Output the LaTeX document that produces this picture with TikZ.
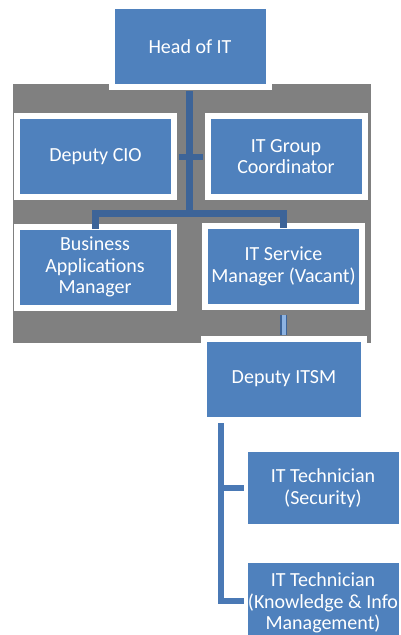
\documentclass[tikz,border=0pt]{standalone}
\usepackage{fontspec}
\setmainfont{Carlito}
\definecolor{boxblue}{RGB}{79,129,189}
\definecolor{connblue}{RGB}{61,100,152}
\definecolor{linkblue}{RGB}{74,121,181}
\definecolor{paleblue}{RGB}{141,179,226}
\definecolor{panelgray}{RGB}{128,128,128}
\tikzset{
  unit/.style={fill=boxblue, draw=white, line width=6pt, text=white, align=center,
    minimum width=157pt, minimum height=81pt, inner sep=0pt,
    font=\fontsize{20}{21.5}\selectfont},
  conn/.style={draw=connblue, line width=7pt, line cap=rect},
  sublink/.style={draw=linkblue, line width=6pt, line cap=rect}
}
\begin{document}
\begin{tikzpicture}[x=1pt, y=-1pt, line join=miter]
    \useasboundingbox (0,0) rectangle (401,635);
    \fill[panelgray] (13,84) rectangle (371,343); % grey panel
    \node[unit] (head) at (190,46.5) {Head of IT};
    \node[unit] (cio) at (95.5,156.5) {Deputy CIO};
    \node[unit] (coord) at (286,156.5) {IT Group\\Coordinator};
    \node[unit] (bam) at (95,267) {Business\\Applications\\Manager};
    \node[unit] (itsm) at (283.5,266.5) {IT Service\\Manager (Vacant)};
    \node[unit, minimum width=160pt] (ditsm) at (284,379) {Deputy ITSM};
    \node[unit, minimum height=78pt] (sec) at (323,488) {IT Technician\\(Security)};
    \node[unit, minimum height=86pt] (kim) at (323,603) {IT Technician\\(Knowledge \& Info\\Management)};
    \coordinate (bus) at (189.5,213.5);
    \coordinate (trunk) at ([xshift=19.5pt, yshift=-3pt]ditsm.south west);
    \draw[conn, line cap=butt] ([yshift=-1pt]head.south -| bus) -- (bus);
    \draw[conn, line cap=butt] ([yshift=-5pt]bam.north) -- (bam.north |- bus) -- (itsm.north |- bus) -- ([yshift=-5pt]itsm.north);
    \draw[conn, line cap=butt, line width=6pt] ([xshift=2pt]cio.east) -- ([xshift=-2pt]coord.west |- cio.east);
    \draw[draw=connblue, line width=1.5pt, double=paleblue, double distance=4pt]
        ([yshift=-5pt]itsm.south) -- ([yshift=1pt]itsm.south |- ditsm.north);
    \draw[sublink] (trunk) |- ([xshift=-1pt]sec.west);
    \draw[sublink] (trunk) |- ([xshift=-1pt, yshift=2.5pt]kim.west);
\end{tikzpicture}
\end{document}
